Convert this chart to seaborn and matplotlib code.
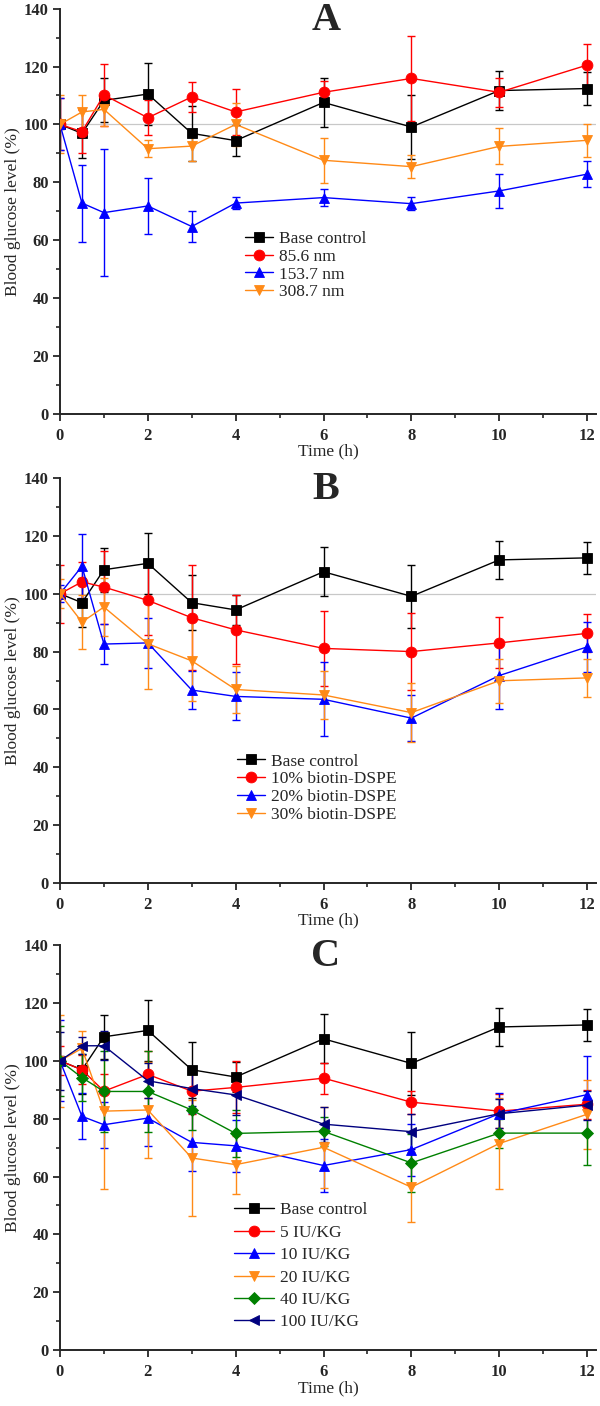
import matplotlib
matplotlib.use("Agg")
import matplotlib.pyplot as plt
from matplotlib.ticker import MultipleLocator
import numpy as np
import pandas as pd
import seaborn as sns

# ---------------- data ----------------
times = [0, 0.5, 1, 2, 3, 4, 6, 8, 10, 12]

base_mean = [100, 96.9, 108.3, 110.5, 96.9, 94.4, 107.6, 99.1, 111.7, 112.4]
base_err = [1.5, 8.5, 7.6, 10.6, 9.6, 5.3, 8.5, 11.0, 6.6, 5.6]

# Panel A
a_labels = ["85.6 nm", "153.7 nm", "308.7 nm"]
a_856_mean = [100, 97.5, 110.2, 102.3, 109.5, 104.3, 111.1, 115.9, 111.1, 120.5]
a_856_err = [9, 7.5, 10.6, 6.0, 5.3, 8.1, 4.0, 14.8, 5.0, 7.2]
a_1537_mean = [100, 72.8, 69.5, 71.8, 64.7, 72.8, 74.7, 72.6, 77.0, 82.8]
a_1537_err = [9, 13.3, 22.0, 9.6, 5.2, 2.2, 3.0, 2.3, 6.0, 4.4]
a_3087_mean = [100, 104.3, 105.2, 91.6, 92.5, 100.0, 87.6, 85.4, 92.4, 94.5]
a_3087_err = [10, 6.0, 5.8, 3.0, 5.0, 7.5, 7.7, 4.0, 6.2, 5.8]

# Panel B
b_labels = ["10% biotin-DSPE", "20% biotin-DSPE", "30% biotin-DSPE"]
b_10_mean = [100, 104.1, 102.3, 97.7, 91.7, 87.5, 81.1, 80.0, 83.0, 86.3]
b_10_err = [10, 6.8, 12.6, 12.0, 18.2, 11.9, 13.0, 13.4, 8.8, 6.6]
b_20_mean = [100, 109.5, 82.6, 83.0, 66.7, 64.5, 63.5, 57.0, 71.7, 81.6]
b_20_err = [3, 11.0, 7.0, 8.7, 6.7, 8.3, 12.8, 8.0, 11.7, 8.7]
b_30_mean = [100, 90.2, 95.4, 82.7, 76.8, 66.9, 65.0, 58.9, 69.9, 70.9]
b_30_err = [5, 9.4, 10.0, 15.7, 13.8, 8.0, 8.2, 10.3, 7.6, 6.7]

# Panel C
c_labels = ["5 IU/KG", "10 IU/KG", "20 IU/KG", "40 IU/KG", "100 IU/KG"]
c_5_mean = [100, 96.9, 89.5, 95.3, 89.5, 90.8, 94.0, 85.7, 82.6, 85.0]
c_5_err = [5, 5, 6, 8, 8, 9, 5.4, 4, 6, 5]
c_10_mean = [100, 80.8, 77.9, 80.2, 71.8, 70.6, 63.8, 69.3, 81.7, 88.3]
c_10_err = [14, 8, 8, 9.6, 10, 9, 9.2, 9, 7, 13.4]
c_20_mean = [100, 104.3, 82.6, 83.0, 66.4, 64.1, 70.1, 56.3, 71.4, 81.5]
c_20_err = [16, 6, 27, 16.6, 20, 10, 14, 12, 15.6, 12]
c_40_mean = [100, 94.2, 89.4, 89.4, 83.0, 74.9, 75.6, 64.7, 75.0, 75.0]
c_40_err = [12, 8, 14, 14, 7, 8, 5, 10, 5, 11]
c_100_mean = [100, 105.2, 105.2, 93.1, 90.4, 88.2, 78.1, 75.5, 81.7, 84.7]
c_100_err = [10, 3, 5, 6, 6, 7, 6, 6, 5, 5]

x_ticks = [0, 2, 4, 6, 8, 10, 12]
y_ticks = [0, 20, 40, 60, 80, 100, 120, 140]

# ---------------- style ----------------
sns.set_theme(style="ticks")
plt.rcParams["font.family"] = ["Liberation Serif", "DejaVu Serif"]
plt.rcParams["axes.linewidth"] = 1.4

BLACK, RED, BLUE, ORANGE, GREEN, NAVY = "#000000", "#FF0000", "#0000FF", "#FF8A17", "#008000", "#00007F"

fig = plt.figure(figsize=(6, 14.06), dpi=100)
L, W, H = 0.10, 0.893, 0.288
ax_a = fig.add_axes([L, 0.7058, W, H])
ax_b = fig.add_axes([L, 0.3720, W, H])
ax_c = fig.add_axes([L, 0.0398, W, H])


def draw_series(ax, mean, err, label, color, marker, ms):
    df = pd.DataFrame({"t": times, "v": mean})
    ax.errorbar(times, mean, yerr=err, fmt="none", ecolor=color,
                elinewidth=1.0, capsize=3.2, capthick=1.0, zorder=2)
    sns.lineplot(data=df, x="t", y="v", ax=ax, color=color, marker=marker,
                 markersize=ms, markeredgecolor=color, markeredgewidth=0.6,
                 linewidth=1.0, label=label, zorder=3, legend=False)


def style_axes(ax, letter, refline=True):
    ax.set_xlim(0, 12.2)
    ax.set_ylim(0, 140)
    if refline:
        ax.axhline(100, color="#C8C8C8", lw=0.9, zorder=1)
    ax.set_xticks(x_ticks)
    ax.set_yticks(y_ticks)
    ax.xaxis.set_minor_locator(MultipleLocator(1))
    ax.yaxis.set_minor_locator(MultipleLocator(10))
    ax.tick_params(which="major", direction="out", length=5, width=1.3,
                   labelsize=12, pad=3)
    ax.tick_params(axis="x", which="major", pad=5)
    ax.tick_params(which="minor", direction="out", length=3, width=1.2)
    for lab in ax.get_xticklabels() + ax.get_yticklabels():
        lab.set_fontweight("bold")
    sns.despine(ax=ax)
    ax.set_xlabel("Time (h)", fontsize=12.5, labelpad=0)
    ax.set_ylabel("Blood glucose level (%)", fontsize=12.5, labelpad=2)
    ax.text(0.496, 0.972, letter, transform=ax.transAxes, ha="center",
            va="center", fontsize=29, fontweight="bold")


def add_legend(ax, x, y, hl, ls):
    handles, labels = ax.get_legend_handles_labels()
    ax.legend(handles, labels, loc="upper left", bbox_to_anchor=(x, y),
              frameon=False, fontsize=12.5, handlelength=hl,
              handletextpad=0.35, labelspacing=ls, borderaxespad=0,
              borderpad=0)


# Panel A
draw_series(ax_a, base_mean, base_err, "Base control", BLACK, "s", 6.8)
draw_series(ax_a, a_856_mean, a_856_err, a_labels[0], RED, "o", 7.8)
draw_series(ax_a, a_1537_mean, a_1537_err, a_labels[1], BLUE, "^", 7.8)
draw_series(ax_a, a_3087_mean, a_3087_err, a_labels[2], ORANGE, "v", 7.8)
style_axes(ax_a, "A")
add_legend(ax_a, 0.345, 0.452, 1.6, 0.1)

# Panel B
draw_series(ax_b, base_mean, base_err, "Base control", BLACK, "s", 6.8)
draw_series(ax_b, b_10_mean, b_10_err, b_labels[0], RED, "o", 7.8)
draw_series(ax_b, b_20_mean, b_20_err, b_labels[1], BLUE, "^", 7.8)
draw_series(ax_b, b_30_mean, b_30_err, b_labels[2], ORANGE, "v", 7.8)
style_axes(ax_b, "B")
add_legend(ax_b, 0.33, 0.32, 1.6, 0.1)

# Panel C
draw_series(ax_c, base_mean, base_err, "Base control", BLACK, "s", 6.8)
draw_series(ax_c, c_5_mean, c_5_err, c_labels[0], RED, "o", 7.8)
draw_series(ax_c, c_10_mean, c_10_err, c_labels[1], BLUE, "^", 7.8)
draw_series(ax_c, c_20_mean, c_20_err, c_labels[2], ORANGE, "v", 7.8)
draw_series(ax_c, c_40_mean, c_40_err, c_labels[3], GREEN, "D", 6.2)
draw_series(ax_c, c_100_mean, c_100_err, c_labels[4], NAVY, "<", 7.8)
style_axes(ax_c, "C", refline=False)
add_legend(ax_c, 0.325, 0.365, 2.3, 0.36)

fig.savefig("out.png", dpi=100)
